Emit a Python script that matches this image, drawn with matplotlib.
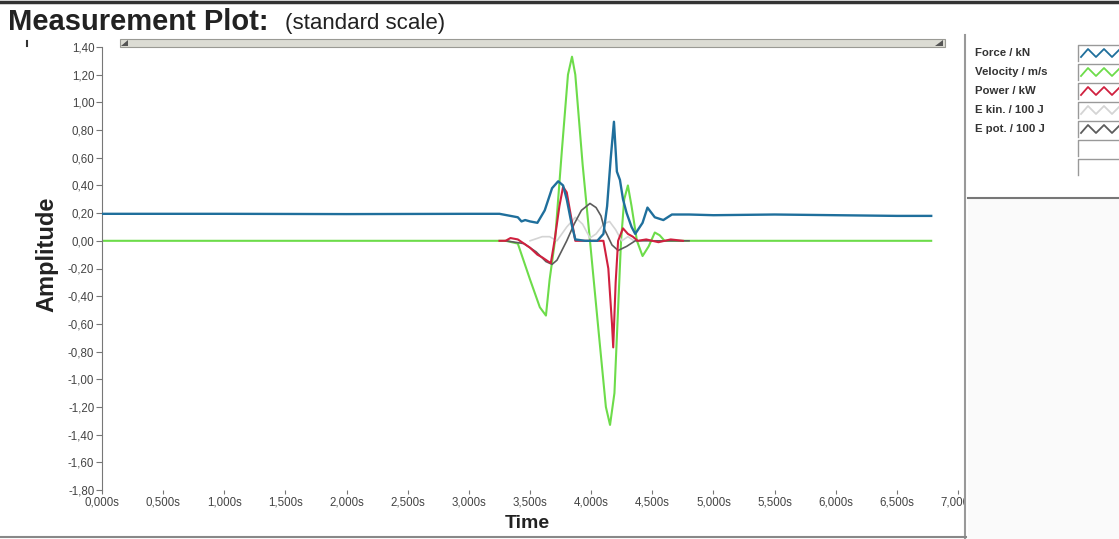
import matplotlib.pyplot as plt
from matplotlib.patches import Rectangle, Polygon
from matplotlib.lines import Line2D
from matplotlib.ticker import FuncFormatter

plt.rcParams['font.family'] = ['Liberation Sans', 'DejaVu Sans']

# time in s, amplitude values
force_t = [0.0, 1.0, 2.0, 3.0, 3.25, 3.40, 3.43, 3.46, 3.50, 3.56, 3.62, 3.68, 3.73, 3.77,
           3.80, 3.84, 3.87, 3.95, 4.05, 4.10, 4.13, 4.16, 4.186, 4.21, 4.235, 4.26, 4.29,
           4.33, 4.36, 4.42, 4.46, 4.52, 4.59, 4.66, 4.80, 5.0, 5.5, 6.0, 6.5, 6.78]
force_v = [0.195, 0.195, 0.193, 0.195, 0.195, 0.17, 0.14, 0.15, 0.14, 0.13, 0.22, 0.38, 0.43,
           0.40, 0.30, 0.12, 0.01, 0.0, 0.0, 0.05, 0.25, 0.60, 0.86, 0.50, 0.44, 0.30, 0.20,
           0.10, 0.05, 0.13, 0.24, 0.17, 0.15, 0.19, 0.19, 0.185, 0.19, 0.185, 0.18, 0.18]

vel_t = [0.0, 3.0, 3.30, 3.40, 3.50, 3.58, 3.63, 3.66, 3.704, 3.76, 3.81, 3.843, 3.87, 3.93,
         3.99, 4.06, 4.12, 4.154, 4.19, 4.244, 4.27, 4.30, 4.33, 4.374, 4.42, 4.47, 4.52,
         4.56, 4.60, 4.70, 6.78]
vel_v = [0.0, 0.0, 0.0, -0.02, -0.28, -0.48, -0.54, -0.28, 0.0, 0.65, 1.20, 1.33, 1.20, 0.55,
         0.0, -0.65, -1.20, -1.33, -1.10, 0.0, 0.30, 0.40, 0.25, 0.0, -0.11, -0.04, 0.06,
         0.04, 0.0, 0.0, 0.0]

pow_t = [3.25, 3.30, 3.34, 3.40, 3.45, 3.50, 3.56, 3.60, 3.65, 3.67, 3.70, 3.74, 3.77, 3.80,
         3.84, 3.87, 4.00, 4.10, 4.14, 4.17, 4.18, 4.20, 4.22, 4.26, 4.30, 4.34, 4.38, 4.45,
         4.55, 4.65, 4.75]
pow_v = [0.0, 0.0, 0.02, 0.01, -0.02, -0.05, -0.10, -0.12, -0.15, -0.16, 0.0, 0.25, 0.39,
         0.35, 0.15, 0.0, 0.0, 0.0, -0.20, -0.60, -0.77, -0.30, 0.0, 0.09, 0.05, 0.03, 0.0,
         0.01, -0.01, 0.01, 0.0]

ekin_t = [3.50, 3.60, 3.66, 3.72, 3.80, 3.87, 3.93, 3.99, 4.04, 4.10, 4.15, 4.20, 4.25,
          4.30, 4.35]
ekin_v = [0.0, 0.03, 0.03, 0.0, 0.10, 0.17, 0.12, 0.02, 0.05, 0.12, 0.14, 0.08, 0.0, 0.03, 0.0]

epot_t = [3.30, 3.45, 3.55, 3.63, 3.68, 3.72, 3.80, 3.86, 3.92, 3.99, 4.04, 4.08, 4.11,
          4.17, 4.22, 4.29, 4.36, 4.50, 4.80]
epot_v = [0.0, -0.02, -0.08, -0.15, -0.17, -0.14, 0.0, 0.12, 0.22, 0.27, 0.24, 0.18, 0.08,
          -0.03, -0.07, -0.04, 0.0, 0.0, 0.0]

legend_labels = ["Force / kN", "Velocity / m/s", "Power / kW", "E kin. / 100 J", "E pot. / 100 J"]
colors = ["#1f6f9c", "#6ddc4a", "#d0203f", "#d4d4d4", "#5c5c5c"]

x_ticks = [0.5 * i for i in range(15)]
y_ticks = [-1.8 + 0.2 * i for i in range(17)]

W, H = 1119, 539
fig = plt.figure(figsize=(W / 100, H / 100), dpi=100)
fig.patch.set_facecolor("white")


def fx(px):
    return px / W


def fy(py):
    return 1 - py / H


ax = fig.add_axes([fx(102), fy(490), fx(965) - fx(102), fy(47) - fy(490)])
ax.plot(vel_t, vel_v, color=colors[1], lw=1.5, zorder=2)
ax.plot(ekin_t, ekin_v, color=colors[3], lw=1.2, zorder=3)
ax.plot(epot_t, epot_v, color=colors[4], lw=1.2, zorder=3)
ax.plot(pow_t, pow_v, color=colors[2], lw=1.5, zorder=4)
ax.plot(force_t, force_v, color=colors[0], lw=1.7, zorder=5)

ax.set_xlim(0, (965 - 102) / 122.3)
ax.set_ylim(-1.8, 1.4)
ax.set_xticks(x_ticks)
ax.set_yticks(y_ticks)
ax.xaxis.set_major_formatter(FuncFormatter(lambda v, p: f"{v:.3f}".replace(".", ",") + "s"))
ax.yaxis.set_major_formatter(FuncFormatter(lambda v, p: f"{v:.2f}".replace(".", ",")))
ax.tick_params(axis="both", labelsize=8.3, labelcolor="#444444", color="#777777")
ax.tick_params(axis="x", length=3, pad=2)
ax.tick_params(axis="y", length=4, pad=1.5)
for s in ["top", "right", "bottom"]:
    ax.spines[s].set_visible(False)
ax.spines["left"].set_color("#777777")

# window decorations
fig.add_artist(Rectangle((fx(965), 0), 1 - fx(965), 1, transform=fig.transFigure,
                         facecolor="white", edgecolor="none", zorder=5))
fig.add_artist(Rectangle((fx(968), fy(539)), 1 - fx(968), fy(198) - fy(539),
                         transform=fig.transFigure, facecolor="#fafafa", edgecolor="none", zorder=5))
fig.add_artist(Line2D([fx(965), fx(965)], [0, fy(35)], transform=fig.transFigure,
                      color="#999999", lw=1.5, zorder=6))
fig.add_artist(Line2D([fx(968), 1], [fy(198), fy(198)], transform=fig.transFigure,
                      color="#777777", lw=1.5, zorder=6))
fig.add_artist(Line2D([0, fx(966)], [fy(537), fy(537)], transform=fig.transFigure,
                      color="#888888", lw=1.5, zorder=6))
fig.add_artist(Line2D([0, 1], [fy(1.5), fy(1.5)], transform=fig.transFigure,
                      color="#333333", lw=2.5, zorder=6))
fig.add_artist(Rectangle((fx(120), fy(47)), fx(945) - fx(120), fy(39) - fy(47),
                         transform=fig.transFigure, facecolor="#dcdcd4", edgecolor="#9a9a94",
                         lw=0.8, zorder=6))
fig.add_artist(Polygon([(fx(121), fy(46)), (fx(128), fy(46)), (fx(128), fy(40))], closed=True,
                       transform=fig.transFigure, facecolor="#555555", edgecolor="none", zorder=7))
fig.add_artist(Polygon([(fx(935), fy(46)), (fx(943), fy(46)), (fx(943), fy(40))], closed=True,
                       transform=fig.transFigure, facecolor="#555555", edgecolor="none", zorder=7))
fig.add_artist(Line2D([fx(27), fx(27)], [fy(41), fy(46)], transform=fig.transFigure,
                      color="#333333", lw=1.5, zorder=6))

fig.text(fx(8), fy(30), "Measurement Plot:", fontsize=21, fontweight="bold", color="#222222",
         va="baseline", ha="left")
fig.text(fx(285), fy(29), "(standard scale)", fontsize=16, color="#222222",
         va="baseline", ha="left")
fig.text(fx(47), fy(254), "Amplitude", fontsize=17, fontweight="bold", rotation=90,
         ha="center", va="center", color="#222222")
fig.text(fx(527), fy(523), "Time", fontsize=14, fontweight="bold", ha="center", va="center",
         color="#222222")

# legend panel
row_y = [53, 72, 91, 110, 129, 148, 167]
for i in range(7):
    top = row_y[i] - 8
    fig.add_artist(Line2D([fx(1078), fx(1078), 1], [fy(top + 16), fy(top), fy(top)],
                          transform=fig.transFigure, color="#999999", lw=1.0, zorder=7))
    if i < len(legend_labels):
        fig.text(fx(975), fy(row_y[i]), legend_labels[i], fontsize=8.2, fontweight="bold",
                 color="#333333", va="center", ha="left", zorder=7)
        zx = [1081, 1088, 1096, 1104, 1112, 1120]
        zy = [row_y[i] + 4, row_y[i] - 4, row_y[i] + 4, row_y[i] - 4, row_y[i] + 4, row_y[i] - 4]
        fig.add_artist(Line2D([fx(v) for v in zx], [fy(v) for v in zy], transform=fig.transFigure,
                              color=colors[i], lw=1.3, zorder=8))

fig.savefig("out.png", dpi=100)
